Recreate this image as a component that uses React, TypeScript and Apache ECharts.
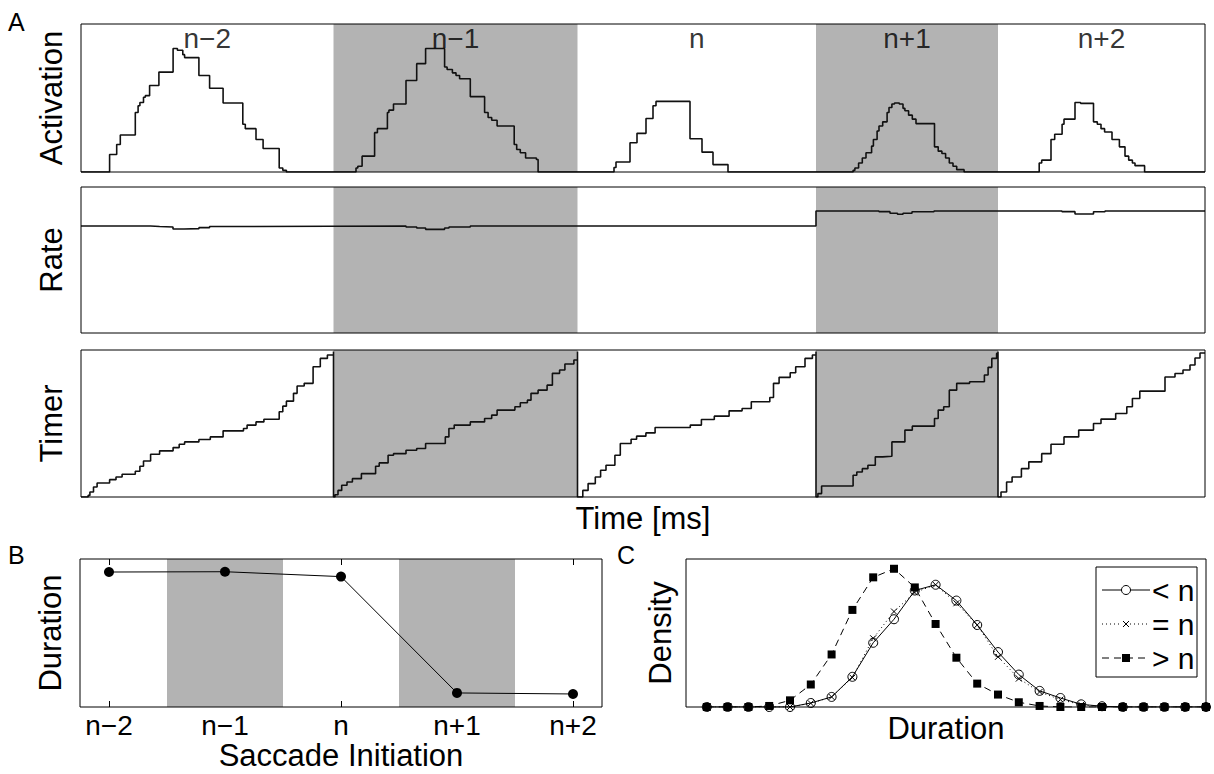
import React, { useEffect, useRef } from "react";
import * as echarts from "echarts";

// ---------- Panel A data (time in ms, values in % of axis height) ----------
const segmentBounds = [0, 252.5, 496.5, 735, 917, 1124];
const segmentLabels = ["n−2", "n−1", "n", "n+1", "n+2"];
const shadedSegments = [1, 3];

const activation: [number, number][] = [
  [0, 0],
  [28.6, 11.8], [35.7, 18.6], [39.3, 25.0], [54.3, 40.2], [57.1, 44.8], [58.9, 47.0], [62.5, 50.5],
  [64.3, 51.6], [68.6, 58.4], [77.9, 67.5], [92.1, 83.4], [96.4, 82.3], [101.8, 79.3], [103.6, 77.3],
  [117.9, 65.2], [128.6, 56.6], [142.1, 46.6], [161.8, 32.3], [164.3, 29.3], [175, 22.0], [182.1, 15.9],
  [198.2, 2.7], [201.8, 1.1], [205.4, 0],
  [275, 2.7], [276.8, 3.9], [281.1, 10.7], [293.6, 26.6], [296.4, 29.3], [306.4, 40.2], [307.9, 41.8],
  [312.5, 45.9], [325, 61.8], [335.7, 73.2], [344.6, 83.4], [363.6, 70.9], [366.1, 69.3], [371.4, 67.0],
  [375, 65.2], [378.6, 63.0], [389.3, 50.9], [403.6, 40.2], [407.1, 36.8], [410.7, 35.0], [416.1, 31.1],
  [433.2, 18.6], [435.7, 15.2], [439.3, 13.0], [444.6, 9.5], [455.4, 8.4], [457.1, 0],
  [533, 3.0], [535, 6.8], [549, 19.8], [556, 26.1], [565, 36.1], [572, 44.8], [575, 47.7], [609, 22.5],
  [621, 13.4], [632, 5.0], [647, 0],
  [772.1, 1.1], [773.9, 2.7], [777.6, 6.1], [781.3, 9.5], [785, 13.0], [790.6, 17.5], [792.4, 22.0],
  [796.1, 27.7], [798, 31.1], [801.7, 33.9], [806.1, 40.2], [808, 43.6], [810.9, 45.9], [813.5, 46.6],
  [818.3, 45.9], [822, 43.0], [823.9, 41.4], [827.6, 38.4], [831.3, 35.7], [835, 32.7], [853.5, 17.0],
  [857.2, 14.1], [860.9, 12.5], [864.6, 9.5], [868.3, 6.1], [872, 3.9], [875.7, 1.6], [883.1, 0],
  [958.2, 6.1], [960.7, 8.0], [970, 22.0], [973.7, 25.5], [981.1, 32.3], [983, 35.7], [994, 47.0],
  [999.6, 46.4], [1012.5, 33.9], [1016.3, 32.3], [1020, 29.3], [1023.6, 27.0], [1031, 22.0],
  [1038.4, 17.0], [1044, 10.7], [1047.7, 8.0], [1051.4, 6.1], [1054, 4.3], [1063.6, 0],
  [1124, 0],
];

const rate: [number, number][] = [
  [0, 73.3], [69.6, 72.9], [78.6, 72.6], [92, 71.2], [103, 71.5], [118, 72.2], [128.6, 72.9], [162.5, 73.3],
  [325, 72.6], [335.7, 71.9], [344.6, 71.0], [363.6, 71.9], [368, 72.6], [389.3, 73.3],
  [735, 83.6], [798, 83.1], [809, 82.0], [816.5, 81.3], [822, 82.0], [831, 83.0], [853, 83.6],
  [981, 83.1], [994, 81.5], [1012.5, 83.0], [1024, 83.6], [1124, 83.6],
];

const timer: [number, number][] = [
  [0, 0], [7.1, 1.1], [8.9, 3.4], [12.5, 6.8], [16.1, 9.5], [28.6, 11.8], [35, 13.6], [41.1, 15.5],
  [54.3, 17.5], [58.9, 20.9], [62.5, 24.5], [69.6, 29.1], [78.6, 31.4], [92.1, 33.6], [98.2, 35.9],
  [103.6, 37.5], [117.9, 39.1], [129.3, 40.9], [142.1, 45.0], [162.5, 46.6], [166.1, 48.9], [175, 51.1],
  [182.9, 52.9], [198.2, 58.0], [201.8, 61.8], [205.4, 65.2], [212.5, 70.5], [216.1, 75.5], [223.2, 77.3],
  [232.1, 88.6], [239.3, 94.3], [246.4, 96.6], [252.5, 98.9], [252.5, 0],
  [254, 1.5], [257, 4.5], [260.7, 8.0], [266, 10.2], [271.4, 12.5], [280.4, 15.9], [294.6, 20.9],
  [298.2, 23.2], [307.1, 28.4], [312.5, 29.5], [325, 31.8], [335.7, 33.0], [344.6, 36.4], [364.3, 40.9],
  [367.9, 46.6], [373.2, 48.9], [389.3, 51.1], [403.6, 53.4], [410.7, 55.7], [416.1, 59.1], [433.9, 61.4],
  [439.3, 64.1], [446.4, 65.9], [450, 70.5], [457.1, 72.7], [466.1, 76.1], [471.4, 84.1], [478.6, 86.4],
  [483.9, 90.5], [492.9, 93.2], [496.5, 98.9], [496.5, 0],
  [501.8, 4.5], [507.1, 9.1], [514.3, 13.6], [519.6, 18.2], [525, 21.6], [533.9, 28.4], [539.3, 36.4],
  [550.1, 39.3], [555.6, 41.4], [564.9, 43.6], [574.1, 47.3], [609.3, 48.9], [620.4, 52.7], [633.3, 55.0],
  [648.1, 58.6], [661.1, 60.2], [670.3, 64.8], [688.8, 67.7], [692.5, 77.3], [698.1, 81.4], [709.2, 84.5],
  [714.7, 88.6], [724, 94.3], [731.4, 96.6], [735, 98.9], [735, 0],
  [736.9, 2.3], [740.6, 7.5], [772.1, 14.8], [775.8, 17.0], [781.3, 19.3], [786.9, 21.6], [794.3, 27.3],
  [801.7, 27.7], [810.9, 37.5], [823.9, 45.5], [831.3, 48.2], [853.5, 53.4], [857.2, 59.1], [862.7, 61.4],
  [868.3, 72.7], [875.7, 77.3], [888.6, 78.4], [903.4, 83.0], [907.1, 88.2], [910.8, 94.3], [915.6, 97.7],
  [917, 98.9], [917, 0],
  [920, 3.4], [925.6, 10.2], [931.1, 13.6], [940.4, 19.3], [947.8, 23.9], [960.7, 29.5], [970, 35.9],
  [983, 40.9], [997.7, 45.5], [1012.5, 50.0], [1020, 53.0], [1034.7, 56.8], [1045.8, 61.4], [1051.4, 67.0],
  [1058.8, 72.0], [1084, 81.6], [1094, 84.0], [1102, 86.4], [1109, 89.8], [1114, 94.6], [1119, 98.0],
  [1124, 98.0],
];

// ---------- Panel B data ----------
const saccadeLabels = ["n−2", "n−1", "n", "n+1", "n+2"];
const durationMeans = [91.2, 91.4, 88.1, 9.5, 8.8];

// ---------- Panel C data ----------
const densityBins = [1, 2, 3, 4, 5, 6, 7, 8, 9, 10, 11, 12, 13, 14, 15, 16, 17, 18, 19, 20, 21, 22, 23, 24, 25];
const densityBefore = [0, 0, 0, 0, 0, 2.7, 6.8, 20.4, 43.4, 59.3, 78.7, 82.6, 71.9, 55.4, 37.1, 21.9, 10.9, 6.1, 1.8, 0.5, 0, 0, 0, 0, 0];
const densityEqual = [0, 0, 0, 0, 0, 2.5, 6.8, 19.9, 46.4, 64.5, 77.4, 82.6, 70.1, 55.4, 33.9, 19.2, 10.2, 5.0, 1.5, 0.3, 0, 0, 0, 0, 0];
const densityAfter = [0, 0, 0, 0.7, 4.5, 15.2, 35.5, 65.6, 87.6, 93.4, 80.8, 56.1, 33.3, 15.8, 8.4, 3.2, 0.7, 0, 0, 0, 0, 0, 0, 0, 0];
const legendLabels = ["< n", "= n", "> n"];

const FONT = "Liberation Sans, Arial, Helvetica, sans-serif";
const GRAY = "#b3b3b3";

export default function App() {
  const ref = useRef<HTMLDivElement>(null);

  useEffect(() => {
    if (!ref.current) return;
    const chart = echarts.init(ref.current, undefined, { renderer: "svg" });

    const gridBase = {
      show: true,
      borderColor: "#000",
      borderWidth: 1,
      backgroundColor: "transparent",
      z: 10,
      outerBoundsMode: "none",
    };
    const hiddenAxisParts = {
      axisLine: { show: false },
      axisTick: { show: false },
      axisLabel: { show: false },
      splitLine: { show: false },
    };
    const nameStyle = { fontSize: 31, color: "#000", fontFamily: FONT };

    const timeAxis = (gridIndex: number, extra: any = {}) => ({
      type: "value",
      gridIndex,
      min: segmentBounds[0],
      max: segmentBounds[segmentBounds.length - 1],
      ...hiddenAxisParts,
      ...extra,
    });
    const plainY = (gridIndex: number, name: string, gap: number) => ({
      type: "value",
      gridIndex,
      min: 0,
      max: 100,
      name,
      nameLocation: "middle",
      nameRotate: 90,
      nameGap: gap,
      nameTextStyle: nameStyle,
      ...hiddenAxisParts,
    });

    const bandAreas = shadedSegments.map((i) => [
      { xAxis: segmentBounds[i] },
      { xAxis: segmentBounds[i + 1] },
    ]);
    const bandSeries = (idx: number) => ({
      type: "line",
      xAxisIndex: idx,
      yAxisIndex: idx,
      data: [],
      silent: true,
      z: 1,
      markArea: { silent: true, itemStyle: { color: GRAY, opacity: 1 }, data: bandAreas },
    });

    const stepLine = (idx: number, data: [number, number][]) => ({
      type: "line",
      xAxisIndex: idx,
      yAxisIndex: idx,
      step: "end",
      data,
      showSymbol: false,
      symbol: "none",
      z: 3,
      lineStyle: { color: "#111", width: 1.6 },
    });

    const catTicks = saccadeLabels.map((_, i) => i + 1);
    const bAreas = shadedSegments.map((i) => [{ xAxis: i + 0.5 }, { xAxis: i + 1.5 }]);

    const legendRowsY = [590, 624, 658];
    const lx0 = 1102;
    const lx1 = 1150;
    const lmid = (lx0 + lx1) / 2;

    const legendGraphics: any[] = [
      {
        type: "rect",
        shape: { x: 1096, y: 567, width: 101, height: 110 },
        style: { fill: "#fff", stroke: "#000", lineWidth: 1 },
        z: 20,
      },
    ];
    const dashes = [null, [1, 3], [7, 5]];
    legendLabels.forEach((lab, i) => {
      const y = legendRowsY[i];
      legendGraphics.push({
        type: "line",
        shape: { x1: lx0, y1: y, x2: lx1, y2: y },
        style: { stroke: "#000", lineWidth: 1, lineDash: dashes[i] || undefined },
        z: 21,
      });
      if (i === 0) {
        legendGraphics.push({
          type: "circle",
          shape: { cx: lmid, cy: y, r: 4.5 },
          style: { fill: "#fff", stroke: "#000", lineWidth: 1 },
          z: 22,
        });
      } else if (i === 1) {
        legendGraphics.push({
          type: "rect",
          shape: { x: lmid - 4, y: y - 4, width: 8, height: 8 },
          style: { fill: "#fff", stroke: "none" },
          z: 22,
        });
        legendGraphics.push({
          type: "line",
          shape: { x1: lmid - 3, y1: y - 3, x2: lmid + 3, y2: y + 3 },
          style: { stroke: "#000", lineWidth: 1 },
          z: 23,
        });
        legendGraphics.push({
          type: "line",
          shape: { x1: lmid + 3, y1: y - 3, x2: lmid - 3, y2: y + 3 },
          style: { stroke: "#000", lineWidth: 1 },
          z: 23,
        });
      } else {
        legendGraphics.push({
          type: "rect",
          shape: { x: lmid - 4, y: y - 4, width: 8, height: 8 },
          style: { fill: "#000", stroke: "none" },
          z: 22,
        });
      }
      legendGraphics.push({
        type: "text",
        x: lx1 + 2,
        y,
        style: {
          text: lab,
          fontSize: 30,
          fontFamily: FONT,
          fill: "#000",
          textVerticalAlign: "middle",
          textAlign: "left",
        },
        z: 22,
      });
    });

    const panelLetter = (t: string, x: number, y: number) => ({
      type: "text",
      x,
      y,
      style: { text: t, fontSize: 25, fontFamily: FONT, fill: "#000", textVerticalAlign: "top" },
    });

    const option: any = {
      animation: false,
      backgroundColor: "#fff",
      textStyle: { fontFamily: FONT, color: "#000" },
      grid: [
        { ...gridBase, left: 81, top: 24, width: 1124, height: 148 },
        { ...gridBase, left: 81, top: 187, width: 1124, height: 146 },
        { ...gridBase, left: 81, top: 350, width: 1124, height: 147 },
        { ...gridBase, left: 80, top: 559, width: 522, height: 148 },
        { ...gridBase, left: 686, top: 559, width: 520, height: 148 },
      ],
      xAxis: [
        timeAxis(0),
        timeAxis(1),
        timeAxis(2, {
          name: "Time [ms]",
          nameLocation: "middle",
          nameGap: 6,
          nameTextStyle: { ...nameStyle, verticalAlign: "top" },
        }),
        {
          type: "value",
          gridIndex: 3,
          min: 0.75,
          max: 5.25,
          position: "bottom",
          axisLine: { show: false },
          splitLine: { show: false },
          axisTick: {
            show: true,
            inside: true,
            length: 6,
            customValues: catTicks,
            lineStyle: { color: "#000", width: 1 },
          },
          axisLabel: {
            show: true,
            customValues: catTicks,
            formatter: (v: number) => saccadeLabels[Math.round(v) - 1],
            fontSize: 28,
            color: "#000",
            fontFamily: FONT,
            margin: 4,
          },
          name: "Saccade Initiation",
          nameLocation: "middle",
          nameGap: 33,
          nameTextStyle: { ...nameStyle, verticalAlign: "top" },
        },
        {
          type: "value",
          gridIndex: 3,
          min: 0.75,
          max: 5.25,
          position: "top",
          axisLine: { show: false },
          splitLine: { show: false },
          axisLabel: { show: false, customValues: catTicks },
          axisTick: {
            show: true,
            inside: true,
            length: 6,
            customValues: catTicks,
            lineStyle: { color: "#000", width: 1 },
          },
        },
        {
          type: "value",
          gridIndex: 4,
          min: 0,
          max: densityBins.length,
          ...hiddenAxisParts,
          name: "Duration",
          nameLocation: "middle",
          nameGap: 6,
          nameTextStyle: { ...nameStyle, verticalAlign: "top" },
        },
      ],
      yAxis: [
        plainY(0, "Activation", 14),
        plainY(1, "Rate", 14),
        plainY(2, "Timer", 14),
        plainY(3, "Duration", 14),
        plainY(4, "Density", 10),
      ],
      graphic: [
        panelLetter("A", 8, 9),
        panelLetter("B", 8, 542),
        panelLetter("C", 617, 542),
        ...legendGraphics,
      ],
      series: [
        bandSeries(0),
        bandSeries(1),
        bandSeries(2),
        stepLine(0, activation),
        stepLine(1, rate),
        stepLine(2, timer),
        {
          type: "scatter",
          xAxisIndex: 0,
          yAxisIndex: 0,
          symbolSize: 0,
          z: 4,
          silent: true,
          data: segmentLabels.map((lab, i) => ({
            name: lab,
            value: [(segmentBounds[i] + segmentBounds[i + 1]) / 2, 90.5],
          })),
          label: {
            show: true,
            position: "inside",
            formatter: (p: any) => p.name,
            fontSize: 28,
            color: "#000",
            fontFamily: FONT,
          },
        },
        {
          type: "line",
          xAxisIndex: 3,
          yAxisIndex: 3,
          data: [],
          silent: true,
          z: 1,
          markArea: { silent: true, itemStyle: { color: GRAY, opacity: 1 }, data: bAreas },
        },
        {
          type: "line",
          xAxisIndex: 3,
          yAxisIndex: 3,
          data: durationMeans.map((v, i) => [i + 1, v]),
          symbol: "circle",
          symbolSize: 10,
          z: 3,
          itemStyle: { color: "#000" },
          lineStyle: { color: "#000", width: 1 },
        },
        {
          name: legendLabels[0],
          type: "line",
          xAxisIndex: 5,
          yAxisIndex: 4,
          data: densityBins.map((b, i) => [b, densityBefore[i]]),
          symbol: "circle",
          symbolSize: 9,
          z: 3,
          itemStyle: { color: "none", borderColor: "#000", borderWidth: 1 },
          lineStyle: { color: "#000", width: 1 },
        },
        {
          name: legendLabels[1],
          type: "line",
          xAxisIndex: 5,
          yAxisIndex: 4,
          data: densityBins.map((b, i) => [b, densityEqual[i]]),
          symbol: "path://M0,0L10,10M10,0L0,10",
          symbolSize: 6,
          z: 4,
          itemStyle: { color: "none", borderColor: "#000", borderWidth: 1 },
          lineStyle: { color: "#000", width: 1, type: [1, 3] },
        },
        {
          name: legendLabels[2],
          type: "line",
          xAxisIndex: 5,
          yAxisIndex: 4,
          data: densityBins.map((b, i) => [b, densityAfter[i]]),
          symbol: "rect",
          symbolSize: 8,
          z: 5,
          itemStyle: { color: "#000" },
          lineStyle: { color: "#000", width: 1, type: [7, 5] },
        },
      ],
    };

    chart.setOption(option);
    return () => chart.dispose();
  }, []);

  return (
    <div
      ref={ref}
      style={{ position: "fixed", left: 0, top: 0, width: 1214, height: 774, background: "#fff" }}
    />
  );
}
